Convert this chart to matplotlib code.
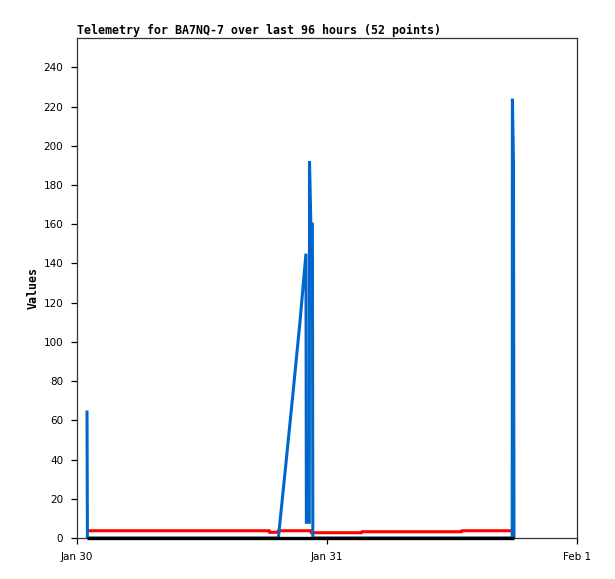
import datetime as dt
import matplotlib
matplotlib.use("Agg")
import matplotlib.pyplot as plt
import matplotlib.dates as mdates
from matplotlib.ticker import FuncFormatter

# hours after Jan 30 00:00
hours = [0.96, 1.0, 4.0, 8.0, 12.0, 16.0, 18.45, 18.5, 19.25, 19.33, 20.0, 20.7,
         21.4, 21.98, 22.02, 22.3, 22.32, 22.45, 22.5, 22.6, 22.64, 25.0, 27.3,
         27.36, 30.0, 34.0, 36.9, 36.96, 39.0, 41.78, 41.8, 41.9, 41.95]
blue = [65, 0, 0, 0, 0, 0, 0, 0, 0, 0, 35, 72,
        110, 145, 8, 8, 192, 160, 160, 160, 0, 0, 0,
        0, 0, 0, 0, 0, 0, 0, 224, 192, 0]
red = [3.7, 3.7, 3.7, 3.7, 3.7, 3.7, 3.7, 2.9, 2.9, 3.7, 3.7, 3.7,
       3.7, 3.7, 3.7, 3.7, 3.7, 3.7, 2.7, 2.7, 2.7, 2.7, 2.7,
       3.2, 3.2, 3.2, 3.2, 3.7, 3.7, 3.7, 3.7, 3.7, 3.7]
black = [0] * len(hours)

start = dt.datetime(2024, 1, 30)
times = [start + dt.timedelta(hours=h) for h in hours]

fig = plt.figure(figsize=(6.15, 5.79), dpi=100)
ax = fig.add_axes([77 / 615, 41 / 579, 500 / 615, 500 / 579])

style = dict(solid_joinstyle="miter", solid_capstyle="butt")
ax.plot(times, red, color="#ff0000", lw=2.2, zorder=2, **style)
ax.plot(times, blue, color="#0066cc", lw=2.2, zorder=3, **style)
ax.plot(times, black, color="#000000", lw=2.4, zorder=4, clip_on=False, **style)

ax.set_xlim(start, start + dt.timedelta(days=2))
ax.set_ylim(0, 255)
ax.set_yticks(range(0, 241, 20))
ax.xaxis.set_major_locator(mdates.DayLocator())
ax.xaxis.set_major_formatter(FuncFormatter(
    lambda v, p: "{:%b} {}".format(mdates.num2date(v), mdates.num2date(v).day)))

for s in ax.spines.values():
    s.set_linewidth(0.9)
    s.set_color("#333333")
ax.tick_params(direction="out", length=4, width=0.9, labelsize=7.5, pad=6)

ax.set_title("Telemetry for BA7NQ-7 over last 96 hours (52 points)",
             loc="left", family="DejaVu Sans Mono", fontweight="bold",
             fontsize=8.4, pad=3)
ax.set_ylabel("Values", family="DejaVu Sans Mono", fontweight="bold",
              fontsize=8.4, labelpad=3)

fig.savefig("out.png", dpi=100)
